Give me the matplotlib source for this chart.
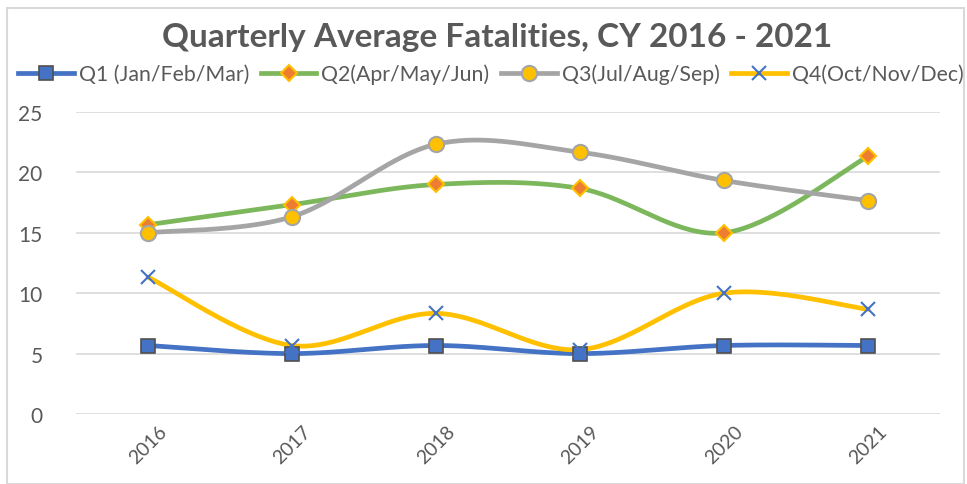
import numpy as np
import matplotlib
matplotlib.use("Agg")
import matplotlib.pyplot as plt
from matplotlib.lines import Line2D
from matplotlib.patches import Rectangle

years = ["2016", "2017", "2018", "2019", "2020", "2021"]
q1 = [5.67, 5.0, 5.67, 5.0, 5.67, 5.67]
q2 = [15.67, 17.33, 19.0, 18.67, 15.0, 21.33]
q3 = [15.0, 16.33, 22.33, 21.67, 19.33, 17.67]
q4 = [11.33, 5.67, 8.33, 5.33, 10.0, 8.67]
labels = ["Q1 (Jan/Feb/Mar)", "Q2(Apr/May/Jun)", "Q3(Jul/Aug/Sep)", "Q4(Oct/Nov/Dec)"]

FONT = "Lato"
TXT = "#595959"

fig = plt.figure(figsize=(9.67, 4.85), dpi=100)
W, H = 967, 485
ax = fig.add_axes([76 / W, 1 - 415 / H, (940 - 76) / W, (415 - 113) / H])

def smooth(xs, ys, n=40):
    # Excel-like smoothing: Catmull-Rom style cubic Bezier segments
    P = np.column_stack([np.asarray(xs, float), np.asarray(ys, float)])
    out = []
    for i in range(len(P) - 1):
        p0 = P[i - 1] if i > 0 else P[i]
        p1 = P[i]; p2 = P[i + 1]
        p3 = P[i + 2] if i + 2 < len(P) else P[i + 1]
        c1 = p1 + (p2 - p0) / 6.0
        c2 = p2 - (p3 - p1) / 6.0
        t = np.linspace(0, 1, n)[:, None]
        seg = ((1 - t) ** 3) * p1 + 3 * ((1 - t) ** 2) * t * c1 + 3 * (1 - t) * t ** 2 * c2 + t ** 3 * p2
        out.append(seg if i == 0 else seg[1:])
    out = np.vstack(out)
    return out[:, 0], out[:, 1]

x = np.arange(len(years))
styles = [
    dict(color="#4472C4", marker="s", mfc="#4472C4", mec="#505050", ms=10, mew=1.2),
    dict(color="#7DB75B", marker="D", mfc="#ED7D31", mec="#FFC000", ms=8, mew=1.5),
    dict(color="#A5A5A5", marker="o", mfc="#FFC000", mec="#A5A5A5", ms=11, mew=1.5),
    dict(color="#FFC000", marker="x", mfc="#4472C4", mec="#4472C4", ms=10, mew=1.5),
]
series = [q1, q2, q3, q4]
handles = []
for s, st, lab in zip(series, styles, labels):
    sxs, sys_ = smooth(x, s)
    ax.plot(sxs, sys_, color=st["color"], lw=3.4, solid_capstyle="round", zorder=2)
    ax.plot(x, s, ls="none", marker=st["marker"], mfc=st["mfc"], mec=st["mec"],
            ms=st["ms"], mew=st["mew"], zorder=3)
    handles.append(Line2D([0], [0], color=st["color"], lw=3.4, marker=st["marker"],
                          mfc=st["mfc"], mec=st["mec"], ms=st["ms"], mew=st["mew"]))

ax.set_xlim(-0.5, 5.5)
ax.set_ylim(0, 25)
ax.set_yticks([0, 5, 10, 15, 20, 25])
ax.set_xticks(x)
ax.set_xticklabels(years, rotation=45, fontsize=14, color=TXT, family=FONT)
for lab in ax.get_yticklabels():
    lab.set_fontsize(15); lab.set_color(TXT); lab.set_family(FONT)
ax.tick_params(axis="y", length=0, pad=24)
ax.tick_params(axis="x", length=0, pad=6)
ax.grid(axis="y", color="#D9D9D9", lw=1.2)
ax.set_axisbelow(True)
for sp in ax.spines.values():
    sp.set_visible(False)

fig.text(497 / W, 1 - 38 / H, "Quarterly Average Fatalities, CY 2016 - 2021",
         ha="center", va="center", fontsize=24, fontweight="bold", color=TXT, family=FONT)

fig.legend(handles, labels, loc="center", bbox_to_anchor=(491 / W, 1 - 75 / H), ncol=4,
           frameon=False, prop={"family": FONT, "size": 15.3}, labelcolor=TXT,
           handlelength=2.6, handletextpad=0.25, columnspacing=0.55)

fig.patches.append(Rectangle((7 / W, 0), (964 - 7) / W, 1 - 9 / H, transform=fig.transFigure,
                             fill=False, ec="#D9D9D9", lw=1.5))

fig.savefig("out.png", dpi=100)
